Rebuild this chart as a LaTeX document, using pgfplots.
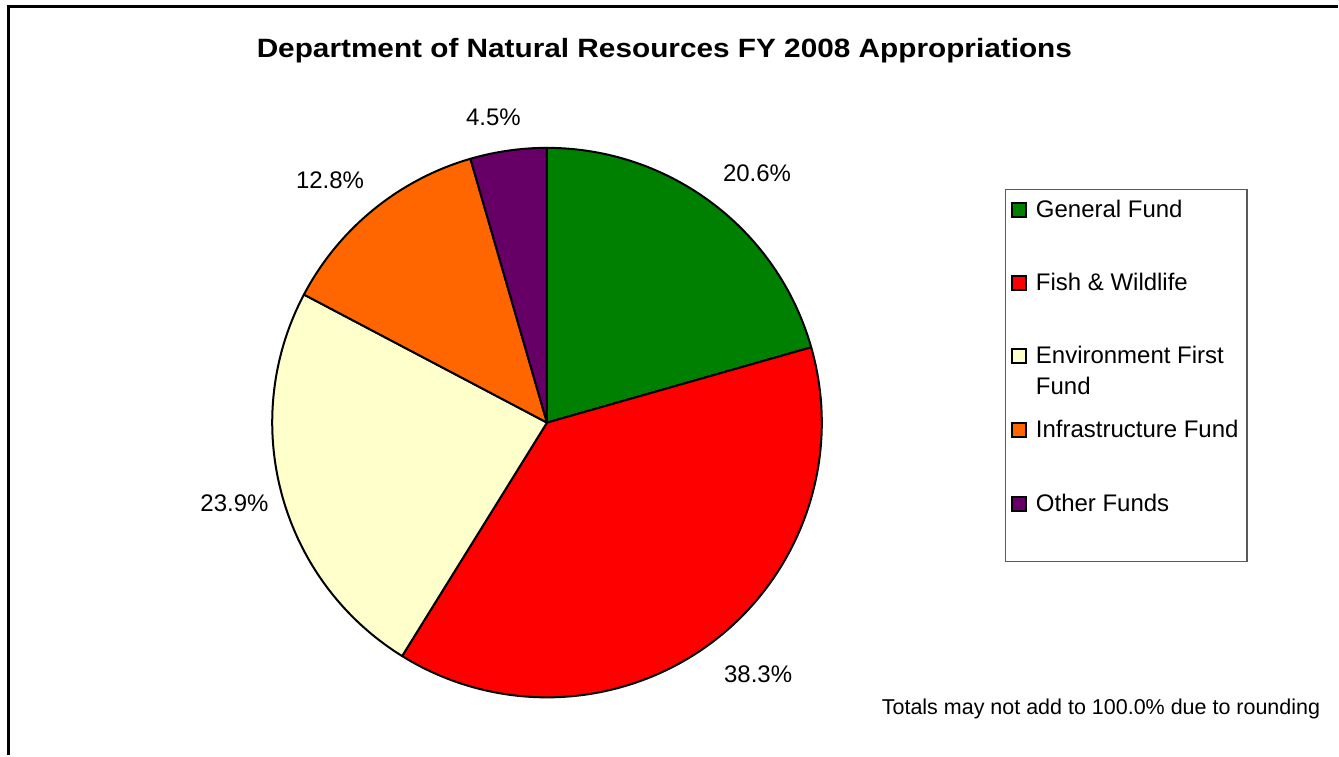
\documentclass[border=0pt]{standalone}
\usepackage{pgfplots}
\usepackage{pgfplotstable}
\usepackage{graphicx}
\usepackage{fontspec}
\setmainfont{Liberation Sans}
\pgfplotsset{compat=1.18}
\definecolor{pgreen}{HTML}{008000}
\definecolor{pred}{HTML}{FF0000}
\definecolor{pyellow}{HTML}{FFFFCC}
\definecolor{porange}{HTML}{FF6600}
\definecolor{ppurple}{HTML}{660066}
\pgfplotstableread{
name pct col lx ly
General 20.6 pgreen 757.7 181.7
Fish 38.3 pred 758.8 683.3
Env 23.9 pyellow 234.7 511.7
Infra 12.8 porange 330.3 188.3
Other 4.5 ppurple 493.8 126
}\piedata
\begin{document}
\begin{tikzpicture}
\begin{axis}[width=1339bp,height=756bp,scale only axis,
  xmin=0,xmax=1339,ymin=0,ymax=756,y dir=reverse,
  hide axis,clip=false,at={(0,0)},anchor=south west]
\pgfplotsextra{
  \path (axis cs:0,0) rectangle (axis cs:1339,756);
  % outer frame (left and top edges visible)
  \draw[line width=2.5bp] (axis cs:8.5,756) -- (axis cs:8.5,6.5) -- (axis cs:1339,6.5);
  % title
  \node[anchor=base,inner sep=0pt] at (axis cs:665,58)
    {\resizebox{816bp}{\height}{\fontsize{26.5bp}{30bp}\selectfont\bfseries Department of Natural Resources FY 2008 Appropriations}};
  % total
  \gdef\pietotal{0}
  \foreach \i in {0,...,4}{
    \pgfplotstablegetelem{\i}{pct}\of\piedata
    \pgfmathsetmacro\t{\pietotal+\pgfplotsretval}
    \xdef\pietotal{\t}
  }
  \gdef\startang{90}
  \foreach \i in {0,...,4}{
    \pgfplotstablegetelem{\i}{pct}\of\piedata
    \let\slicepct\pgfplotsretval
    \pgfmathsetmacro\endang{\startang-360*\slicepct/\pietotal}
    \pgfplotstablegetelem{\i}{col}\of\piedata
    \let\slicecol\pgfplotsretval
    \pgfplotstablegetelem{\i}{lx}\of\piedata
    \let\lx\pgfplotsretval
    \pgfplotstablegetelem{\i}{ly}\of\piedata
    \let\ly\pgfplotsretval
    \filldraw[fill=\slicecol,draw=black,line width=2bp,line join=round]
      (axis cs:547.5,423) -- ++(\startang:275bp)
      arc[start angle=\startang,end angle=\endang,radius=275bp] -- cycle;
    \node[anchor=base,inner sep=0pt,font=\fontsize{24bp}{28bp}\selectfont]
      at (axis cs:\lx,\ly) {\slicepct\%};
    \xdef\startang{\endang}
  }
  % legend
  \draw[draw=black!65,line width=1.3bp] (axis cs:1006.7,190) rectangle (axis cs:1248,561.7);
  \foreach \y/\c/\t in {210/pgreen/General Fund,283.3/pred/Fish \& Wildlife,356.7/pyellow/Environment First,430.8/porange/Infrastructure Fund,504.2/ppurple/Other Funds}{
    \filldraw[fill=\c,draw=black,line width=2bp] (axis cs:1019.5,\y) ++(-7bp,-7bp) rectangle ++(14bp,14bp);
    \node[anchor=base west,inner sep=0pt,font=\fontsize{24bp}{28bp}\selectfont]
      at (axis cs:1036.7,\y) [yshift=-7.5bp] {\t};
  }
  \node[anchor=base west,inner sep=0pt,font=\fontsize{24bp}{28bp}\selectfont]
    at (axis cs:1036.7,395) {Fund};
  % footnote
  \node[anchor=base,inner sep=0pt,font=\fontsize{21.5bp}{25bp}\selectfont]
    at (axis cs:1102,715) {Totals may not add to 100.0\% due to rounding};
}
\end{axis}
\end{tikzpicture}
\end{document}
